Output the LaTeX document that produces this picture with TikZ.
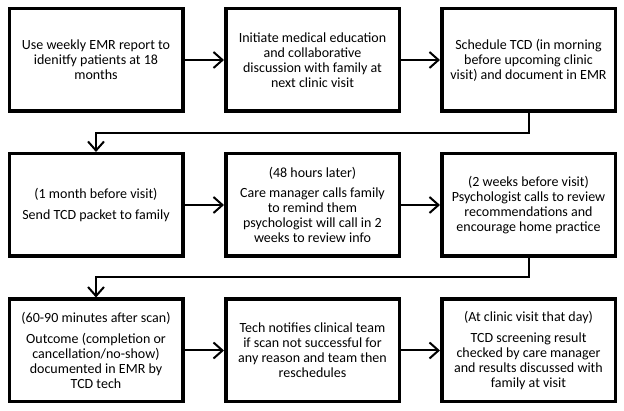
\documentclass[tikz,border=0pt]{standalone}
\usepackage{fontspec}
\setmainfont{Carlito}
\usetikzlibrary{arrows.meta}
\begin{document}
\begin{tikzpicture}[x=1pt,y=-1pt,
  box/.style={draw, line width=3.5pt, minimum width=173.5pt, minimum height=102.5pt, align=center, inner sep=0pt,
    font=\fontsize{14}{15}\selectfont},
  conn/.style={line width=2pt, -{Straight Barb[length=9pt,width=16pt,line width=2pt]}}]
\useasboundingbox (0,0) rectangle (624,411);
\node[box] (a1) at (96,60) {Use weekly EMR report to\\idenitfy patients at 18\\months};
\node[box] (a2) at (312.5,60) {Initiate medical education\\and collaborative\\discussion with family at\\next clinic visit};
\node[box] (a3) at (528.5,60) {Schedule TCD (in morning\\before upcoming clinic\\visit) and document in EMR};
\node[box] (b1) at (96,205) {(1 month before visit)\\[6pt]Send TCD packet to family};
\node[box] (b2) at (312.5,205) {(48 hours later)\\[5pt]Care manager calls family\\to remind them\\psychologist will call in 2\\weeks to review info};
\node[box] (b3) at (528.5,205) {(2 weeks before visit)\\Psychologist calls to review\\recommendations and\\encourage home practice};
\node[box] (c1) at (96,350.5) {(60-90 minutes after scan)\\[6pt]Outcome (completion or\\cancellation/no-show)\\documented in EMR by\\TCD tech};
\node[box] (c2) at (312.5,350.5) {Tech notifies clinical team\\if scan not successful for\\any reason and team then\\reschedules};
\node[box] (c3) at (528.5,350.5) {(At clinic visit that day)\\[6pt]TCD screening result\\checked by care manager\\and results discussed with\\family at visit};
\draw[conn] (a1) -- (a2);
\draw[conn] (a2) -- (a3);
\draw[conn] (b1) -- (b2);
\draw[conn] (b2) -- (b3);
\draw[conn] (c1) -- (c2);
\draw[conn] (c2) -- (c3);
\draw[conn] (a3.south) -- ++(0,20) -| (b1.north);
\draw[conn] (b3.south) -- ++(0,19) -| (c1.north);
\end{tikzpicture}
\end{document}
